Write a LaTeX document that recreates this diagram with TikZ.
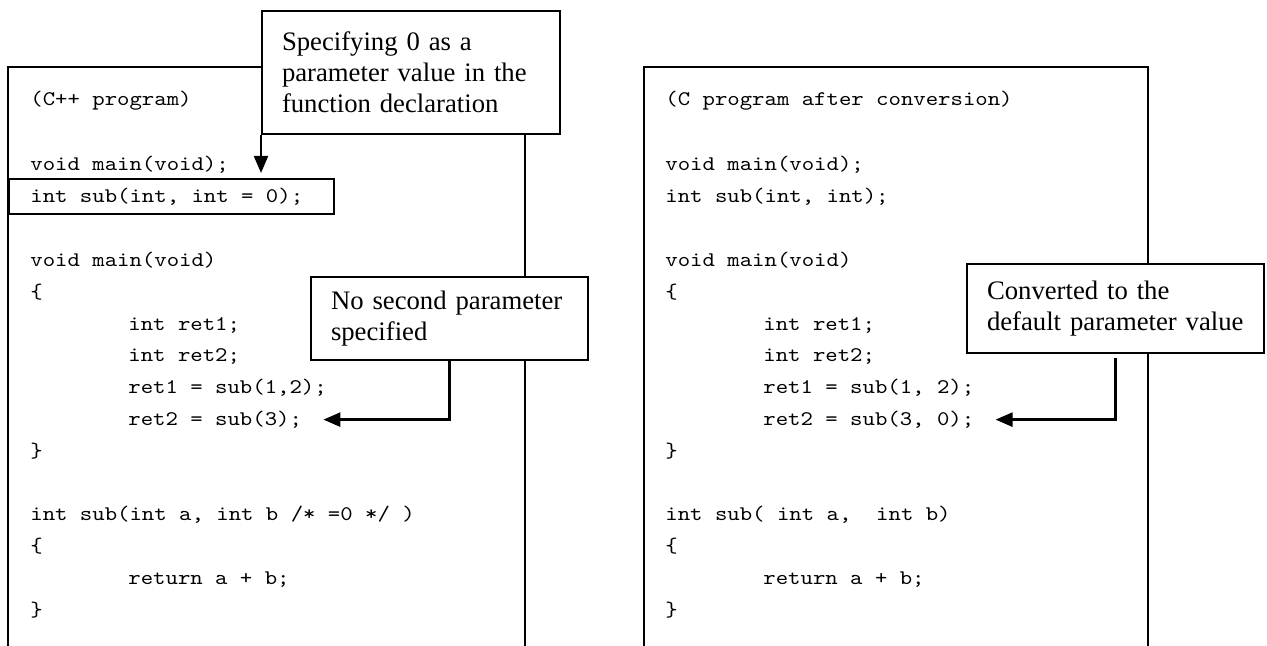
\documentclass[tikz,border=0pt]{standalone}
\usepackage{fontspec}
\setmainfont{Liberation Serif}
\setmonofont[FakeStretch=1.1355]{Latin Modern Mono}
\usetikzlibrary{arrows.meta}

\begin{document}
\begin{tikzpicture}[x=0.5pt,y=-0.5pt,>={Triangle[length=8.5pt,width=7pt]},
  panel/.style={line width=1pt},
  callout/.style={draw,fill=white,line width=1pt,anchor=north west,align=left,
    inner xsep=10pt,inner ysep=2pt,font=\fontsize{13.35}{15.5}\selectfont},
  code/.style={anchor=base west,inner sep=0pt,font=\fontsize{10.4}{12}\selectfont\ttfamily},
  pointer/.style={->,line width=1.35pt}]

\useasboundingbox (0,0) rectangle (1267,646);

% the two program panels, open at the bottom
\draw [panel] (8,646) -- (8,67) -- (525,67) -- (525,646);
\draw [panel] (644,646) -- (644,67) -- (1148,67) -- (1148,646);

% C++ program
\node [code] at (30,106) (ltitle) {(C++ program)};
\node [code] at (30,171) (lproto1) {void main(void);};
\node [code] at (30,202.8) (lproto2) {int sub(int, int = 0);};
\node [draw,line width=1pt,anchor=north west,inner sep=0pt,minimum width=162.5pt,minimum height=17.5pt] at (8,178) (decl) {};
\node [code] at (30,266.4) (lmain) {void main(void)};
\node [code] at (30,298.2) (lopen) {\{};
\node [code] at (128,330) (lret1) {int ret1;};
\node [code] at (128,361.8) (lret2) {int ret2;};
\node [code] at (128,393.6) (lcall1) {ret1 = sub(1,2);};
\node [code] at (128,425.4) (lcall2) {ret2 = sub(3);};
\node [code] at (30,457.2) (lclose) {\}};
\node [code] at (30,520.8) (lsub) {int sub(int a, int b /* =0 */ )};
\node [code] at (30,552.6) (lsubopen) {\{};
\node [code] at (128,584.4) (lreturn) {return a + b;};
\node [code] at (30,616.2) (lsubclose) {\}};

% C program after conversion
\node [code] at (665,106) (rtitle) {(C program after conversion)};
\node [code] at (665,171) (rproto1) {void main(void);};
\node [code] at (665,202.8) (rproto2) {int sub(int, int);};
\node [code] at (665,266.4) (rmain) {void main(void)};
\node [code] at (665,298.2) (ropen) {\{};
\node [code] at (763,330) (rret1) {int ret1;};
\node [code] at (763,361.8) (rret2) {int ret2;};
\node [code] at (763,393.6) (rcall1) {ret1 = sub(1, 2);};
\node [code] at (763,425.4) (rcall2) {ret2 = sub(3, 0);};
\node [code] at (665,457.2) (rclose) {\}};
\node [code] at (665,520.8) (rsub) {int sub( int a,\ \ int b)};
\node [code] at (665,552.6) (rsubopen) {\{};
\node [code] at (763,584.4) (rreturn) {return a + b;};
\node [code] at (665,616.2) (rsubclose) {\}};

% callouts
\node [callout,text width=129pt,minimum height=61.5pt] at (261,10) (spec) {Specifying 0 as a\\parameter value in the\\function declaration};
\node [callout,text width=118.5pt,minimum height=41.5pt] at (310,276) (nosec) {No second parameter\\specified};
\node [callout,text width=128.5pt,minimum height=44.5pt] at (966,263) (conv) {Converted to the\\default parameter value};

\draw [->,line width=1pt,shorten >=2.5pt] (spec.south west) -- (spec.south west |- decl.north);
\draw [pointer,shorten >=10.5pt] (nosec.south) |- (lcall2.east);
\draw [pointer,shorten <=2pt,shorten >=10.5pt] (conv.south) |- (rcall2.east);

\end{tikzpicture}
\end{document}
